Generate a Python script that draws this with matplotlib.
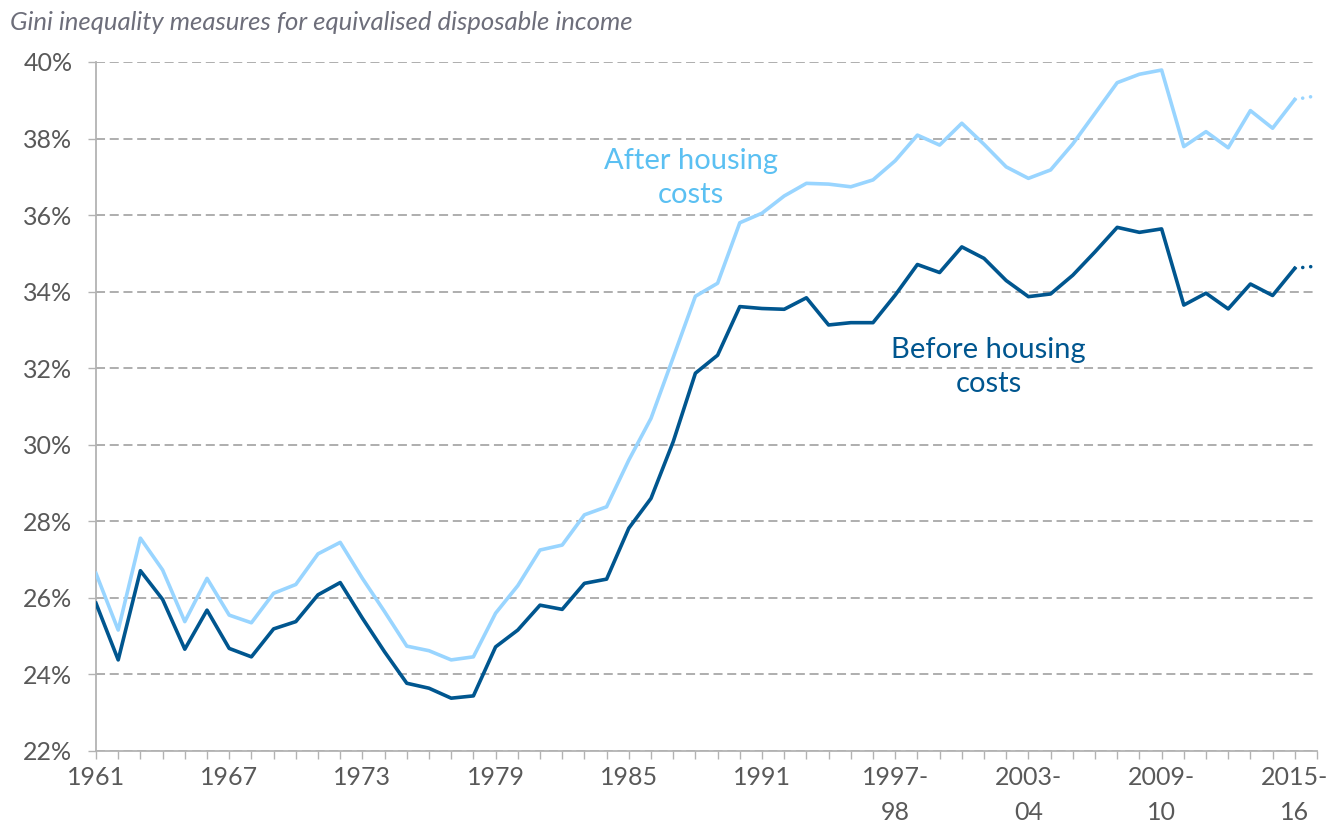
import matplotlib
matplotlib.use("Agg")
import matplotlib.pyplot as plt
from matplotlib.ticker import FuncFormatter

plt.rcParams['font.family'] = ['Lato', 'DejaVu Sans']

# calendar years to 1992, financial years from 1993-94
years = [str(y) for y in range(1961, 1993)] + \
        ['{}-{:02d}'.format(y, (y + 1) % 100) for y in range(1993, 2017)]

# Gini coefficient, %
ahc = [26.64, 25.16, 27.56, 26.73, 25.38, 26.51, 25.55, 25.35, 26.12, 26.35,
       27.15, 27.45, 26.51, 25.64, 24.74, 24.62, 24.38, 24.46, 25.60, 26.32,
       27.25, 27.38, 28.17, 28.38, 29.60, 30.69, 32.28, 33.88, 34.22, 35.80,
       36.05, 36.50, 36.83, 36.81, 36.74, 36.92, 37.42, 38.09, 37.83, 38.40,
       37.85, 37.26, 36.96, 37.18, 37.86, 38.66, 39.46, 39.68, 39.79, 37.79,
       38.18, 37.76, 38.73, 38.27, 39.02, 39.12]
bhc = [25.86, 24.38, 26.71, 25.96, 24.66, 25.68, 24.68, 24.46, 25.19, 25.38,
       26.08, 26.40, 25.47, 24.59, 23.77, 23.64, 23.38, 23.44, 24.72, 25.16,
       25.81, 25.70, 26.38, 26.49, 27.82, 28.60, 30.08, 31.87, 32.34, 33.61,
       33.56, 33.54, 33.84, 33.13, 33.19, 33.19, 33.91, 34.71, 34.50, 35.17,
       34.87, 34.29, 33.87, 33.94, 34.43, 35.04, 35.68, 35.55, 35.64, 33.65,
       33.96, 33.55, 34.20, 33.90, 34.61, 34.67]

light = '#99d5ff'
dark = '#00568f'
grey = '#b3b3b3'

fig = plt.figure(figsize=(13.41, 8.27), dpi=100)
ax = fig.add_axes([96 / 1341, 76 / 827, 1221 / 1341, 689 / 827])

x = list(range(len(years)))

# last year is provisional, drawn dotted
for vals, col in [(ahc, light), (bhc, dark)]:
    ax.plot(x[:-1], vals[:-1], color=col, lw=2.6, zorder=3)
    ax.plot(x[-2:], vals[-2:], color=col, lw=2.6, linestyle=(0, (0.01, 2.2)),
            dash_capstyle='round', zorder=3)

ax.set_xlim(0, len(years) - 1)
ax.set_ylim(22, 40)
ax.set_yticks(range(22, 41, 2))
ax.yaxis.set_major_formatter(FuncFormatter(lambda v, p: '{:.0f}%'.format(v)))

labels = []
for i, y in enumerate(years):
    if i % 6 != 0:
        labels.append('')
    elif '-' in y:
        labels.append(y[:5] + '\n' + y[5:])
    else:
        labels.append(y)
ax.set_xticks(x)
ax.set_xticklabels(labels, linespacing=1.6)

ax.yaxis.grid(True, color='#a8a8a8', linestyle=(0, (5, 2.6)), lw=1.3)
ax.set_axisbelow(True)
for s in ['top', 'right']:
    ax.spines[s].set_visible(False)
for s in ['left', 'bottom']:
    ax.spines[s].set_color(grey)
    ax.spines[s].set_linewidth(1.3)

ax.tick_params(axis='both', length=6, width=1, color=grey,
               labelsize=18, labelcolor='#595959')
ax.tick_params(axis='y', pad=11)
ax.tick_params(axis='x', pad=5)

ax.text(26.8, 36.97, 'After housing\ncosts', ha='center', va='center',
        fontsize=21, color='#5bc0f2', linespacing=1.35)
ax.text(40.2, 32.03, 'Before housing\ncosts', ha='center', va='center',
        fontsize=21, color=dark, linespacing=1.35)

fig.text(10 / 1341, 1 - 23 / 827,
         'Gini inequality measures for equivalised disposable income',
         fontsize=18.5, style='italic', color='#6d6e7a', va='center')

fig.savefig('out.png', dpi=100)
